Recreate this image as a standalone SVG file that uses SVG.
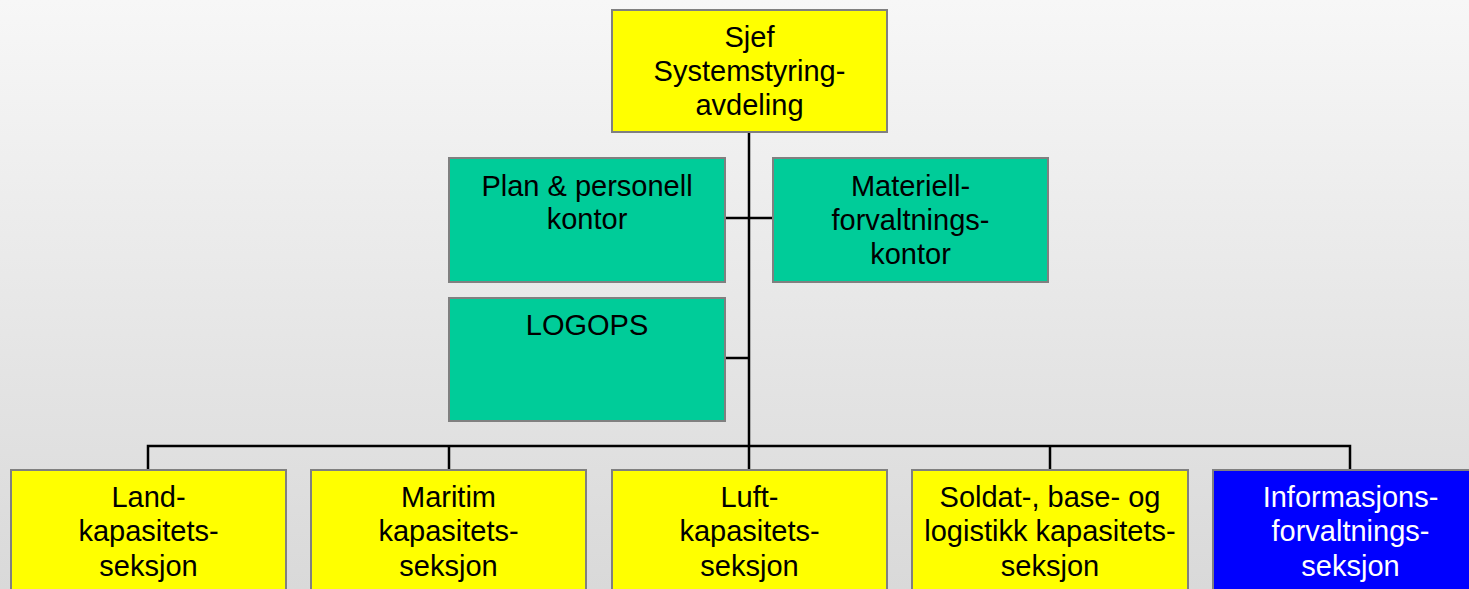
<svg xmlns="http://www.w3.org/2000/svg" width="1469" height="589" viewBox="0 0 1469 589">
<defs>
<linearGradient id="bg" x1="0" y1="0" x2="0" y2="1">
<stop offset="0" stop-color="#f7f7f7"/>
<stop offset="1" stop-color="#d9d9d9"/>
</linearGradient>
<style>
.box{stroke:#808080;stroke-width:2}
.y{fill:#ffff00}
.g{fill:#00cc99}
.b{fill:#0000ff}
.t{font-family:"Liberation Sans",Arial,sans-serif;font-size:29px;text-anchor:middle;fill:#000}
.w{fill:#ffffff}
.c{stroke:#000;stroke-width:2.5;fill:none}
</style>
</defs>
<rect width="1469" height="589" fill="url(#bg)"/>
<g id="connectors">
<line class="c" x1="749" y1="132" x2="749" y2="470"/>
<line class="c" x1="725" y1="218" x2="773" y2="218"/>
<line class="c" x1="725" y1="358" x2="749" y2="358"/>
<polyline class="c" points="148,470 148,446 1350,446 1350,470"/>
<line class="c" x1="449" y1="446" x2="449" y2="470"/>
<line class="c" x1="1050" y1="446" x2="1050" y2="470"/>
</g>
<g id="sjef">
<rect class="box y" x="612" y="10" width="275" height="122"/>
<text class="t" x="749.5" y="47">Sjef</text>
<text class="t" x="749.5" y="81">Systemstyring-</text>
<text class="t" x="749.5" y="115">avdeling</text>
</g>
<g id="plan">
<rect class="box g" x="449" y="158" width="276" height="124"/>
<text class="t" x="587" y="196">Plan &amp; personell</text>
<text class="t" x="587" y="229">kontor</text>
</g>
<g id="materiell">
<rect class="box g" x="773" y="158" width="275" height="124"/>
<text class="t" x="910.5" y="196">Materiell-</text>
<text class="t" x="910.5" y="230">forvaltnings-</text>
<text class="t" x="910.5" y="264">kontor</text>
</g>
<g id="logops">
<rect class="box g" x="449" y="298" width="276" height="123"/>
<text class="t" x="587" y="335">LOGOPS</text>
</g>
<g id="land">
<rect class="box y" x="11" y="470" width="275" height="130"/>
<text class="t" x="148.5" y="507">Land-</text>
<text class="t" x="148.5" y="541">kapasitets-</text>
<text class="t" x="148.5" y="576">seksjon</text>
</g>
<g id="maritim">
<rect class="box y" x="311" y="470" width="275" height="130"/>
<text class="t" x="448.5" y="507">Maritim</text>
<text class="t" x="448.5" y="541">kapasitets-</text>
<text class="t" x="448.5" y="576">seksjon</text>
</g>
<g id="luft">
<rect class="box y" x="612" y="470" width="275" height="130"/>
<text class="t" x="749.5" y="507">Luft-</text>
<text class="t" x="749.5" y="541">kapasitets-</text>
<text class="t" x="749.5" y="576">seksjon</text>
</g>
<g id="soldat">
<rect class="box y" x="912" y="470" width="276" height="130"/>
<text class="t" x="1050" y="507">Soldat-, base- og</text>
<text class="t" x="1050" y="541">logistikk kapasitets-</text>
<text class="t" x="1050" y="576">seksjon</text>
</g>
<g id="informasjon">
<rect class="box b" x="1213" y="470" width="276" height="130"/>
<text class="t w" x="1350.5" y="507">Informasjons-</text>
<text class="t w" x="1350.5" y="541">forvaltnings-</text>
<text class="t w" x="1350.5" y="576">seksjon</text>
</g>
</svg>
